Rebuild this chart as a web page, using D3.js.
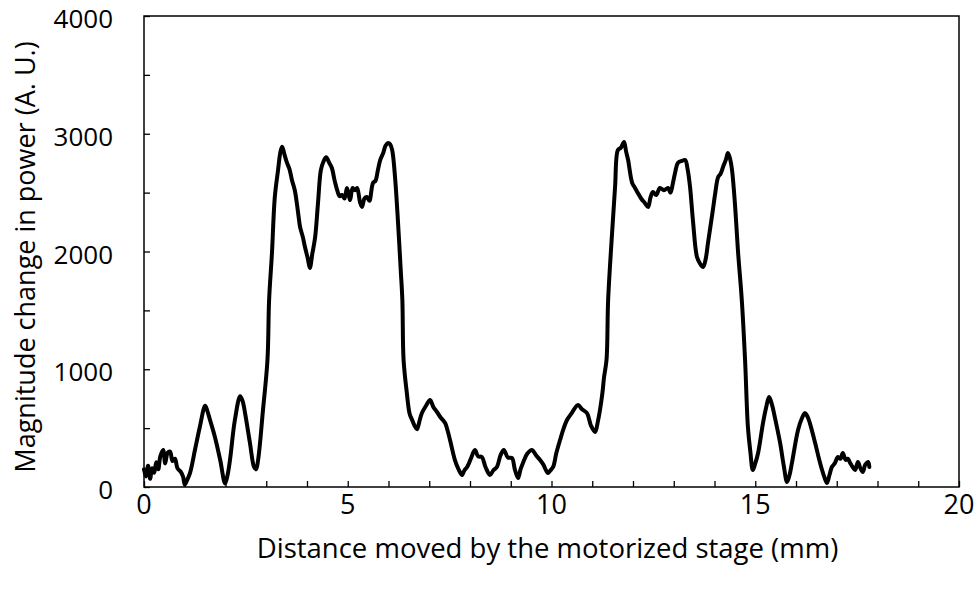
<!DOCTYPE html>
<html><head><meta charset="utf-8">
<script src="https://cdn.jsdelivr.net/npm/d3@7"></script>
<style>body{margin:0;background:#fff}svg{display:block}text{font-family:"Open Sans",sans-serif;fill:#000}</style>
</head><body>
<svg id="c" width="979" height="596"></svg>
<script>
const xTicks = [0,5,10,15,20];
const yTicks = [0,1000,2000,3000,4000];
const xLabel = "Distance moved by the motorized stage (mm)";
const yLabel = "Magnitude change in power (A. U.)";
const distance = [0.00,0.05,0.10,0.15,0.20,0.25,0.30,0.35,0.40,0.47,0.52,0.58,0.64,0.70,0.76,0.82,0.90,0.96,1.00,1.06,1.13,1.25,1.37,1.50,1.56,1.62,1.74,1.87,1.99,2.05,2.11,2.23,2.36,2.42,2.48,2.60,2.70,2.75,2.80,2.92,3.03,3.07,3.14,3.21,3.29,3.35,3.39,3.45,3.51,3.57,3.63,3.70,3.75,3.80,3.83,3.90,3.95,4.02,4.07,4.13,4.20,4.27,4.34,4.40,4.47,4.55,4.61,4.68,4.74,4.80,4.86,4.92,4.98,5.03,5.06,5.12,5.18,5.23,5.30,5.35,5.41,5.47,5.53,5.62,5.68,5.74,5.80,5.87,5.93,5.99,6.04,6.09,6.16,6.23,6.30,6.34,6.37,6.45,6.52,6.58,6.64,6.70,6.76,6.82,6.92,7.02,7.10,7.19,7.28,7.39,7.45,7.51,7.63,7.72,7.80,7.86,7.93,8.02,8.12,8.20,8.29,8.38,8.49,8.57,8.66,8.75,8.83,8.93,9.03,9.10,9.18,9.24,9.30,9.40,9.52,9.62,9.72,9.80,9.91,9.97,10.04,10.12,10.21,10.30,10.38,10.50,10.65,10.75,10.87,10.97,11.07,11.14,11.19,11.25,11.29,11.35,11.39,11.48,11.56,11.63,11.70,11.78,11.83,11.88,11.98,12.05,12.12,12.20,12.29,12.37,12.43,12.49,12.57,12.66,12.76,12.86,12.92,12.98,13.04,13.10,13.20,13.28,13.34,13.40,13.47,13.57,13.64,13.72,13.78,13.84,13.96,14.02,14.09,14.15,14.21,14.28,14.33,14.38,14.43,14.50,14.58,14.67,14.75,14.82,14.88,14.94,15.00,15.07,15.19,15.27,15.34,15.41,15.48,15.61,15.70,15.78,15.84,15.90,16.05,16.14,16.22,16.28,16.34,16.47,16.55,16.64,16.70,16.76,16.82,16.88,16.95,17.03,17.09,17.15,17.22,17.27,17.33,17.39,17.45,17.52,17.58,17.64,17.70,17.77,17.80];
const power = [150,90,180,70,160,120,210,150,260,314,200,290,300,220,240,160,130,85,20,60,120,314,510,690,640,569,425,229,30,100,229,569,770,730,628,374,170,150,229,654,1079,1588,1987,2463,2692,2850,2890,2820,2752,2700,2607,2520,2412,2280,2208,2120,2038,1940,1860,1980,2123,2412,2692,2760,2800,2750,2709,2600,2522,2470,2480,2450,2539,2470,2437,2540,2520,2539,2420,2378,2450,2463,2430,2582,2600,2692,2780,2837,2900,2921,2910,2862,2633,2268,1843,1588,1079,798,620,569,520,490,560,628,690,739,680,637,590,543,480,399,229,150,102,140,170,240,314,260,255,170,102,140,170,270,314,250,246,150,76,150,204,280,314,270,229,190,119,140,170,290,399,500,569,630,696,660,628,520,467,560,654,800,934,1079,1588,2123,2548,2862,2880,2930,2850,2777,2582,2540,2497,2450,2412,2378,2460,2505,2480,2539,2520,2539,2500,2582,2680,2752,2770,2777,2700,2548,2268,1953,1900,1868,1930,2072,2352,2500,2633,2660,2718,2780,2837,2790,2692,2412,1987,1588,1079,510,300,144,200,289,543,680,764,700,594,374,180,42,100,204,484,580,628,600,543,374,260,144,80,34,100,170,200,255,240,289,230,240,204,170,144,212,160,127,190,212,170];

const svg = d3.select("#c");
const L=144, R=959, T=16, B=487;
const x = d3.scaleLinear().domain([0,20]).range([L,R]);
const y = d3.scaleLinear().domain([0,4000]).range([B,T]);

// frame
svg.append("rect").attr("x",L).attr("y",T).attr("width",R-L).attr("height",B-T)
  .attr("fill","none").attr("stroke","#000").attr("stroke-width",1.5);

// inner minor ticks
const gx = svg.append("g").attr("transform",`translate(0,${B})`)
  .call(d3.axisBottom(x).tickValues(d3.range(0,21,1)).tickSize(-6).tickFormat(""));
const gy = svg.append("g").attr("transform",`translate(${L},0)`)
  .call(d3.axisLeft(y).tickValues(d3.range(0,4001,500)).tickSize(-6).tickFormat(""));
[gx,gy].forEach(g=>{g.select(".domain").remove();g.selectAll("line").attr("stroke","#000").attr("stroke-width",1.3);});

// tick labels
svg.append("g").selectAll("text").data(xTicks).join("text")
  .attr("x",d=>x(d)).attr("y",B+27).attr("text-anchor","middle").attr("font-size",27).text(d=>d);
svg.append("g").selectAll("text").data(yTicks).join("text")
  .attr("x",L-31).attr("y",d=>y(d)+12).attr("text-anchor","end").attr("font-size",26).text(d=>d);

// titles
svg.append("text").attr("x",(L+R)/2-4).attr("y",558).attr("text-anchor","middle").attr("font-size",27.5).text(xLabel);
svg.append("text").attr("transform",`translate(35,257) rotate(-90)`).attr("text-anchor","middle").attr("font-size",27).text(yLabel);

// line
const pts = distance.map((d,i)=>[d,power[i]]);
svg.append("path").datum(pts)
  .attr("fill","none").attr("stroke","#000").attr("stroke-width",4).attr("stroke-linejoin","round").attr("stroke-linecap","round")
  .attr("d", d3.line().x(d=>x(d[0])).y(d=>y(d[1])).curve(d3.curveCatmullRom.alpha(0.5)));
</script>
</body></html>
